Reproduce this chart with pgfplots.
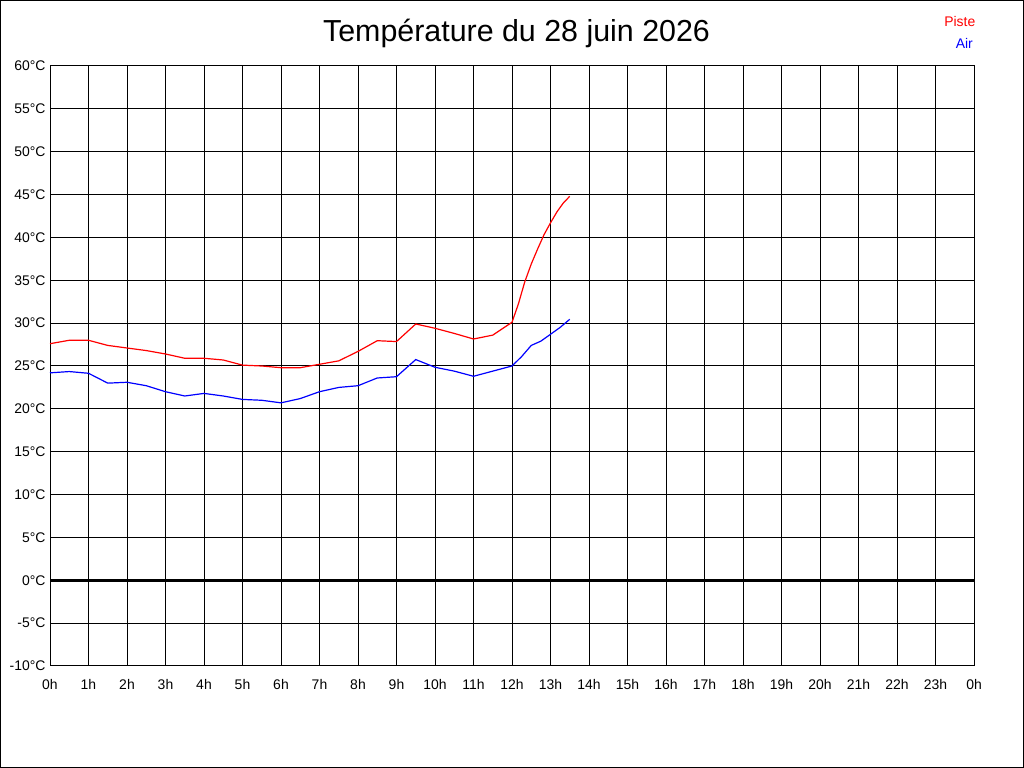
\documentclass[border=0pt]{standalone}
\usepackage{pgfplots}
\pgfplotsset{compat=1.18}
\usepackage{fontspec}
\setmainfont{Liberation Sans}
\begin{document}
\begin{tikzpicture}[x=1bp,y=1bp]
\useasboundingbox (0,0) rectangle (1024,768);
\fill[white] (0,0) rectangle (1024,768);
\draw[black,line width=1bp] (0.5,0.5) rectangle (1023.5,767.5);
\node[anchor=base,font=\fontsize{30.5}{32}\selectfont] at (516.5,726.3) {Température du 28 juin 2026};
\node[anchor=base east,inner sep=0pt,text=red,font=\fontsize{14}{16}\selectfont] at (975.5,741.3) {Piste};
\node[anchor=base east,inner sep=0pt,text=blue,font=\fontsize{14}{16}\selectfont] at (973,719.7) {Air};
\begin{axis}[
  at={(50bp,102bp)}, anchor=south west,
  scale only axis, width=924bp, height=600bp,
  xmin=0, xmax=24, ymin=-10, ymax=60,
  xtick={0,1,...,24},
  xticklabels={0h,1h,2h,3h,4h,5h,6h,7h,8h,9h,10h,11h,12h,13h,14h,15h,16h,17h,18h,19h,20h,21h,22h,23h,0h},
  ytick={-10,-5,...,60},
  yticklabels={-10°C,-5°C,0°C,5°C,10°C,15°C,20°C,25°C,30°C,35°C,40°C,45°C,50°C,55°C,60°C},
  major tick length=0pt,
  grid=major,
  major grid style={black,line width=1bp},
  axis line style={black,line width=1bp},
  ticklabel style={font=\fontsize{14}{16}\selectfont,text=black},
  xticklabel style={yshift=-10bp},
  yticklabel style={xshift=-1bp},
  /pgf/number format/assume math mode=true,
  clip=false,
]
\addplot[black,line width=3bp] coordinates {(0,0) (24,0)};
\addplot[red,line width=1.2bp] coordinates {
(0,27.6) (0.5,28.0) (1,28.0) (1.5,27.4) (2,27.1) (2.5,26.8) (3,26.4) (3.5,25.9) (4,25.9) (4.5,25.7)
(5,25.1) (5.5,25.0) (6,24.8) (6.5,24.8) (7,25.2) (7.5,25.6) (8,26.7) (8.5,27.95) (9,27.85) (9.5,29.9)
(10,29.4) (10.5,28.8) (11,28.15) (11.5,28.6) (12,30.1) (12.17,32.3) (12.33,34.8) (12.5,36.9)
(12.67,38.7) (12.83,40.3) (13,41.7) (13.17,43.0) (13.33,44.0) (13.5,44.8)};
\addplot[blue,line width=1.2bp] coordinates {
(0,24.2) (0.5,24.35) (1,24.15) (1.5,23.0) (2,23.1) (2.5,22.7) (3,22.0) (3.5,21.5) (4,21.8) (4.5,21.5)
(5,21.1) (5.5,21.0) (6,20.7) (6.5,21.2) (7,22.0) (7.5,22.5) (8,22.7) (8.5,23.6) (9,23.75) (9.5,25.75)
(10,24.85) (10.5,24.4) (11,23.8) (11.5,24.4) (12,25.0) (12.25,26.1) (12.5,27.4) (12.75,27.9)
(13,28.7) (13.25,29.5) (13.5,30.45)};
\end{axis}
\end{tikzpicture}
\end{document}
